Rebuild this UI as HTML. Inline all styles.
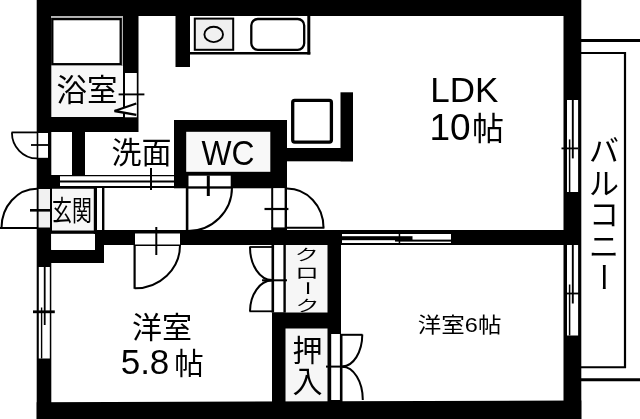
<!DOCTYPE html>
<html lang="ja">
<head>
<meta charset="utf-8">
<title>間取り図 2LDK</title>
<style>
html,body{margin:0;padding:0;background:#fff;}
body{width:640px;height:419px;overflow:hidden;font-family:"Liberation Sans",sans-serif;}
svg{display:block;}
svg text{font-family:"Liberation Sans","Noto Sans CJK JP",sans-serif;fill:#000;}
</style>
</head>
<body>
<svg width="640" height="419" viewBox="0 0 640 419" role="img" aria-label="2LDK floor plan">
<defs><filter id="soft" x="0" y="0" width="100%" height="100%" filterUnits="userSpaceOnUse" color-interpolation-filters="sRGB"><feGaussianBlur stdDeviation="0.38"/></filter></defs>
<rect width="640" height="419" fill="#fff"/>
<g filter="url(#soft)">
<rect x="-5" y="-5" width="650" height="429" fill="#fff"/>

<!-- subtle room tints -->
<rect x="51" y="64" width="73" height="53" fill="#f7f7f7"/>
<rect x="285" y="245" width="43" height="67" fill="#f6f6f6"/>
<rect x="285" y="328" width="43" height="75" fill="#f6f6f6"/>
<rect x="51" y="188" width="44" height="42" fill="#f7f7f7"/>

<!-- outer walls -->
<rect x="37" y="0" width="544" height="16" fill="#000"/>
<polygon points="36.7,402.2 581.3,400.5 581.3,419 36.7,419" fill="#000"/>
<rect x="36.7" y="0" width="14.6" height="419" fill="#000"/>
<rect x="563.5" y="0" width="17.8" height="419" fill="#000"/>

<!-- bathroom -->
<rect x="123" y="16" width="15.5" height="116" fill="#000"/>
<rect x="51" y="16" width="72" height="2.6" fill="#b5b5b5"/>
<rect x="121" y="16" width="2" height="50" fill="#b5b5b5"/>
<rect x="37" y="117" width="101" height="15" fill="#000"/>
<rect x="52.3" y="19.1" width="68.4" height="45.1" fill="#fff" stroke="#000" stroke-width="2.3"/>
<rect x="125" y="73" width="11.8" height="44.3" fill="#fff"/>
<line x1="118.6" y1="94.4" x2="144.4" y2="94.4" stroke="#000" stroke-width="1.9"/>
<path d="M136.3 103.5 L114.5 111 L136.3 114.8" fill="#fff" stroke="#000" stroke-width="2.3"/>

<!-- washroom / pillar / sliding door -->
<rect x="72" y="132" width="13" height="44" fill="#000"/>
<rect x="51" y="175" width="9" height="13" fill="#000"/>
<rect x="60" y="175.500" width="113" height="12.500" fill="#fff"/>
<line x1="60" y1="175.600" x2="174" y2="175.600" stroke="#000" stroke-width="1.200"/>
<line x1="60" y1="181.400" x2="174" y2="181.400" stroke="#000" stroke-width="2"/>
<line x1="60" y1="187" x2="174" y2="187" stroke="#000" stroke-width="2"/>
<line x1="151" y1="168" x2="151" y2="190" stroke="#000" stroke-width="2"/>

<!-- WC -->
<rect x="174" y="120" width="113" height="68.300" fill="#000"/>
<rect x="186.200" y="131.800" width="84.100" height="40" fill="#f8f8f8"/>
<rect x="188.500" y="175.700" width="42.200" height="10.900" fill="#fff"/>
<line x1="208.300" y1="175.500" x2="208.300" y2="196" stroke="#000" stroke-width="3"/>
<line x1="186" y1="187.500" x2="232.500" y2="187.500" stroke="#000" stroke-width="1.900"/>
<line x1="187.100" y1="187" x2="187.100" y2="231" stroke="#000" stroke-width="2.600"/>
<path d="M232 187.5 A44 43.5 0 0 1 188 231" fill="none" stroke="#000" stroke-width="2"/>

<!-- kitchen -->
<rect x="175.500" y="16" width="14.500" height="51" fill="#000"/>
<line x1="190" y1="53.200" x2="310.300" y2="53.200" stroke="#000" stroke-width="2.600"/>
<line x1="308.800" y1="16" x2="308.800" y2="54.500" stroke="#000" stroke-width="3"/>
<rect x="194.800" y="18.600" width="38.400" height="31.200" fill="#efefef" stroke="#000" stroke-width="2"/>
<ellipse cx="213.700" cy="34.400" rx="9.300" ry="7.700" fill="#f1f1f1" stroke="#000" stroke-width="1.900"/>
<rect x="251.300" y="19" width="52.900" height="30.800" fill="#fff" rx="6.500" ry="6.500" stroke="#000" stroke-width="2.300"/>
<rect x="292.700" y="100.400" width="38.700" height="41.700" fill="#fff" rx="2" ry="2" stroke="#000" stroke-width="3.300"/>
<rect x="340.500" y="92.300" width="12.500" height="69" fill="#000"/>
<rect x="286" y="148" width="67" height="13.300" fill="#000"/>

<!-- LDK door -->
<rect x="271.200" y="188.300" width="15.800" height="39.100" fill="#fff"/>
<rect x="271.200" y="227.400" width="15.800" height="3.600" fill="#000"/>
<line x1="272.200" y1="188" x2="272.200" y2="228" stroke="#000" stroke-width="2"/>
<line x1="285.800" y1="188" x2="285.800" y2="228" stroke="#000" stroke-width="2.400"/>
<line x1="264.500" y1="209" x2="288.400" y2="209" stroke="#000" stroke-width="2.200"/>
<path d="M287 188.6 A36.5 39 0 0 1 323.5 227.6" fill="none" stroke="#000" stroke-width="2"/>
<line x1="287" y1="227.800" x2="324.400" y2="227.800" stroke="#000" stroke-width="2"/>

<!-- middle wall -->
<rect x="95" y="230" width="486" height="15" fill="#000"/>
<rect x="135" y="233.500" width="45" height="11.500" fill="#fff"/>
<line x1="134" y1="245.200" x2="180.500" y2="245.200" stroke="#000" stroke-width="1.600"/>
<line x1="156.300" y1="227" x2="156.300" y2="255" stroke="#000" stroke-width="2"/>
<line x1="134.600" y1="245" x2="134.600" y2="288.800" stroke="#000" stroke-width="2.200"/>
<path d="M134.6 288.3 A45 43 0 0 0 180 245" fill="none" stroke="#000" stroke-width="2"/>
<rect x="342" y="234" width="109" height="2.200" fill="#fff"/>
<rect x="412.500" y="234" width="38.500" height="5.600" fill="#fff"/>
<rect x="342" y="240.200" width="53" height="2.800" fill="#fff"/>
<rect x="395" y="241.600" width="56" height="1.400" fill="#fff"/>
<rect x="398.700" y="232" width="1.500" height="12.700" fill="#000"/>

<!-- genkan -->
<rect x="95" y="230" width="9" height="33" fill="#000"/>
<rect x="37" y="250" width="67" height="13" fill="#000"/>
<rect x="37" y="230.500" width="67" height="3.500" fill="#000"/>
<rect x="51.200" y="233.800" width="42.600" height="16" fill="#fff"/>
<line x1="51" y1="188" x2="95" y2="188" stroke="#000" stroke-width="1.600"/>
<line x1="51" y1="188" x2="51" y2="231" stroke="#000" stroke-width="2"/>
<rect x="93.800" y="187" width="3.200" height="44" fill="#000"/>
<rect x="102" y="187" width="2.400" height="44" fill="#000"/>
<rect x="38.600" y="189" width="11.400" height="38.500" fill="#f1f1f1"/>
<line x1="30" y1="210.300" x2="52" y2="210.300" stroke="#000" stroke-width="2.600"/>
<path d="M37 188.8 A35.5 39 0 0 0 1.5 228" fill="none" stroke="#000" stroke-width="2"/>
<line x1="0" y1="228" x2="37" y2="228" stroke="#000" stroke-width="2"/>
<rect x="38.300" y="133" width="9.700" height="24.800" fill="#fff"/>
<line x1="31" y1="145" x2="48" y2="145" stroke="#000" stroke-width="1.800"/>
<line x1="11.500" y1="132.400" x2="37" y2="132.400" stroke="#000" stroke-width="1.800"/>
<path d="M11.9 132.4 A25.1 26 0 0 0 37 158.4" fill="none" stroke="#000" stroke-width="1.800"/>

<!-- left window -->
<rect x="38.800" y="267" width="11" height="91.500" fill="#fff"/>
<line x1="44.700" y1="267" x2="44.700" y2="325" stroke="#000" stroke-width="1.800"/>
<line x1="41.600" y1="307.500" x2="41.600" y2="358.500" stroke="#000" stroke-width="1.400"/>
<line x1="33" y1="311.800" x2="54.800" y2="311.800" stroke="#000" stroke-width="2.800"/>

<!-- right windows -->
<rect x="567" y="100" width="11.100" height="92" fill="#fff"/>
<line x1="572.800" y1="100" x2="572.800" y2="158.400" stroke="#000" stroke-width="1.900"/>
<line x1="569.600" y1="139.400" x2="569.600" y2="192" stroke="#000" stroke-width="1.500"/>
<line x1="561.500" y1="148.400" x2="578" y2="148.400" stroke="#000" stroke-width="1.800"/>
<rect x="567" y="245" width="11.100" height="90.500" fill="#fff"/>
<line x1="572.800" y1="245" x2="572.800" y2="303.500" stroke="#000" stroke-width="1.900"/>
<line x1="569.600" y1="284.500" x2="569.600" y2="335.500" stroke="#000" stroke-width="1.500"/>
<line x1="566" y1="293.500" x2="580" y2="293.500" stroke="#000" stroke-width="1.800"/>

<!-- balcony -->
<line x1="581" y1="40.500" x2="640" y2="40.500" stroke="#000" stroke-width="3"/>
<line x1="581" y1="379.800" x2="640" y2="379.800" stroke="#000" stroke-width="3"/>
<line x1="581" y1="53" x2="626" y2="53" stroke="#000" stroke-width="2"/>
<line x1="581" y1="367.200" x2="626" y2="367.200" stroke="#000" stroke-width="2"/>
<line x1="625" y1="52" x2="625" y2="368" stroke="#000" stroke-width="2.200"/>

<!-- closets -->
<rect x="272" y="245" width="13" height="67.500" fill="#fff"/>
<line x1="272.800" y1="245" x2="272.800" y2="312.500" stroke="#000" stroke-width="2.600"/>
<line x1="284.600" y1="245" x2="284.600" y2="312.500" stroke="#000" stroke-width="2.400"/>
<line x1="262" y1="280.300" x2="287" y2="280.300" stroke="#000" stroke-width="2"/>
<line x1="249.400" y1="247" x2="272" y2="247" stroke="#000" stroke-width="1.800"/>
<line x1="249.400" y1="311.300" x2="272" y2="311.300" stroke="#000" stroke-width="1.800"/>
<path d="M250 247 A22 33 0 0 0 272 280" fill="none" stroke="#000" stroke-width="2"/>
<path d="M250 311.3 A22 31 0 0 1 272 280.6" fill="none" stroke="#000" stroke-width="2"/>
<rect x="327.500" y="245" width="13.500" height="158" fill="#000"/>
<rect x="272" y="312.500" width="69" height="16" fill="#000"/>
<rect x="272" y="312.500" width="13.500" height="90.500" fill="#000"/>
<rect x="331.200" y="334" width="9.800" height="66" fill="#fff"/>
<line x1="341.200" y1="334" x2="341.200" y2="402" stroke="#000" stroke-width="2.600"/>
<line x1="326" y1="366.600" x2="345" y2="366.600" stroke="#000" stroke-width="2"/>
<line x1="341" y1="334.800" x2="362.500" y2="334.800" stroke="#000" stroke-width="2"/>
<path d="M362.3 334.600 A20 32 0 0 1 342.300 366.400" fill="none" stroke="#000" stroke-width="2"/>
<path d="M342.300 366.800 A20.500 33 0 0 1 362.800 400" fill="none" stroke="#000" stroke-width="2"/>

<!-- labels -->
<text x="87" y="101" font-size="30.500" text-anchor="middle">浴室</text>
<text x="141.600" y="162.500" font-size="30" text-anchor="middle">洗面</text>
<text x="201.600" y="164.500" font-size="35" textLength="53" lengthAdjust="spacingAndGlyphs">WC</text>
<text x="464.400" y="101.900" font-size="35" text-anchor="middle">LDK</text>
<text x="450" y="139.900" font-size="37" text-anchor="middle">10</text>
<text x="488" y="139.500" font-size="32" text-anchor="middle">帖</text>
<text x="52" y="221" font-size="28" textLength="40" lengthAdjust="spacingAndGlyphs">玄関</text>
<text x="162" y="337.500" font-size="30" text-anchor="middle">洋室</text>
<text x="145" y="374" font-size="35" text-anchor="middle">5.8</text>
<text x="189" y="373.500" font-size="29.500" text-anchor="middle">帖</text>
<g aria-label="クローク">
<text transform="translate(306.800,260) scale(1,0.62)" font-size="24" text-anchor="middle">ク</text>
<text transform="translate(307,277.500) scale(1,0.62)" font-size="24" text-anchor="middle">ロ</text>
<text transform="translate(307.400,288.200) rotate(90) scale(0.62,1)" y="8.500" font-size="24" text-anchor="middle">ー</text>
<text transform="translate(307.400,310.500) scale(1,0.62)" font-size="24" text-anchor="middle">ク</text>
</g>
<g aria-label="押入">
<text x="307.400" y="360.500" font-size="30" text-anchor="middle">押</text>
<text x="307.400" y="392" font-size="30" text-anchor="middle">入</text>
</g>
<text x="417.800" y="331.500" font-size="21" textLength="83.600" lengthAdjust="spacingAndGlyphs">洋室6帖</text>
<g aria-label="バルコニー">
<text x="604" y="161" font-size="30" text-anchor="middle">バ</text>
<text x="604" y="194" font-size="30" text-anchor="middle">ル</text>
<text x="604" y="225" font-size="30" text-anchor="middle">コ</text>
<text x="604" y="257" font-size="30" text-anchor="middle">ニ</text>
<text transform="translate(604.100,277) rotate(90)" y="10.800" font-size="30" text-anchor="middle">ー</text>
</g>
</g>
</svg>
</body>
</html>
